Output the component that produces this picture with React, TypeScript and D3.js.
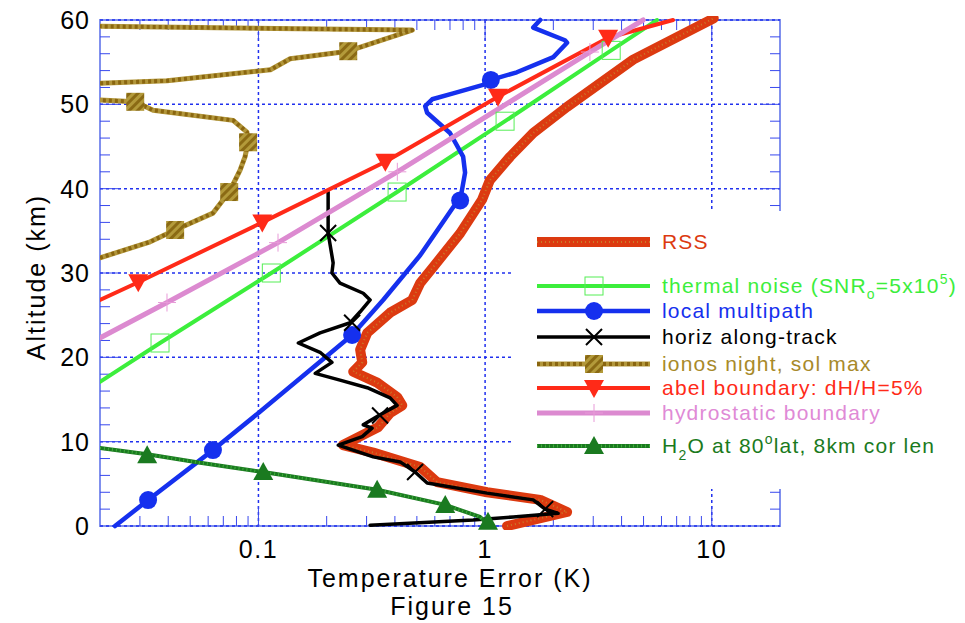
import * as d3 from 'd3';

type Pt = [number, number]; // [temperature error (K), altitude (km)]

// ---- data ----
const rss: Pt[] = [
  [1.25, 0.0], [2.3, 1.66], [1.75, 3.1], [1.02, 4.0], [0.614, 5.2], [0.517, 7.0], [0.321, 8.7],
  [0.236, 9.6], [0.337, 11.7], [0.381, 13.4], [0.431, 14.3], [0.409, 15.3], [0.334, 17.0],
  [0.262, 18.3], [0.287, 19.4], [0.281, 20.9], [0.302, 22.9], [0.381, 25.3], [0.477, 26.8],
  [0.517, 28.8], [0.59, 30.7], [0.776, 34.7], [0.97, 38.7], [1.05, 41.0], [1.29, 43.8],
  [1.63, 46.6], [2.3, 49.7], [4.5, 55.3], [10.2, 60.2],
];

const thermal: Pt[] = [[0.02, 17.1], [0.0368, 21.7], [0.114, 30.0], [0.409, 39.6], [1.225, 48.0], [3.6, 56.4], [5.74, 60]];
const thermalMarks: Pt[] = [[0.0368, 21.7], [0.114, 30.0], [0.409, 39.6], [1.225, 48.0], [3.6, 56.4]];

const multipath: Pt[] = [
  [0.0233, 0], [0.0326, 3.08], [0.063, 9.0], [0.1, 13.4], [0.259, 22.65], [0.355, 26.8],
  [0.517, 32.1], [0.723, 37.8], [0.776, 38.6], [0.816, 41.9], [0.8, 43.8], [0.7, 46.6],
  [0.555, 49.0], [0.544, 49.8], [0.584, 50.6], [0.723, 51.3], [0.98, 52.3], [1.06, 52.9],
  [1.38, 53.8], [2.0, 55.6], [2.3, 57.3], [2.25, 57.6], [1.63, 59.1], [1.75, 60],
];
const multipathMarks: Pt[] = [[0.0326, 3.08], [0.063, 9.0], [0.259, 22.65], [0.776, 38.6], [1.06, 52.9]];

const alongTrack: Pt[] = [
  [0.311, 0.1], [0.885, 0.7], [1.33, 1.07], [2.1, 1.5], [1.84, 2.0], [1.63, 3.1], [1.02, 3.9],
  [0.555, 5.1], [0.491, 6.4], [0.422, 7.6], [0.321, 8.2], [0.225, 9.6], [0.287, 10.6],
  [0.317, 11.6], [0.29, 12.0], [0.344, 13.2], [0.409, 14.3], [0.381, 15.2], [0.302, 16.4],
  [0.229, 17.3], [0.178, 18.1], [0.211, 19.4], [0.187, 20.6], [0.15, 21.7], [0.187, 22.9],
  [0.254, 24.1], [0.281, 25.4], [0.311, 26.8], [0.29, 27.6], [0.229, 28.8], [0.211, 30.0],
  [0.2136, 31.2], [0.203, 34.75], [0.203, 39.6],
];
const alongTrackMarks: Pt[] = [[1.84, 2.0], [0.491, 6.4], [0.344, 13.1], [0.259, 24.1], [0.203, 34.75]];

const ionos: Pt[] = [
  [0.02, 31.8], [0.0333, 33.7], [0.0429, 35.1], [0.063, 37.1], [0.0743, 39.6], [0.083, 42.2],
  [0.0873, 43.8], [0.09, 45.5], [0.089, 46.7], [0.0773, 48.1], [0.0343, 49.3], [0.0286, 50.3],
  [0.02, 50.5], [0.012, 51.5], [0.02, 52.5], [0.0396, 52.8], [0.113, 54.1], [0.138, 55.4],
  [0.249, 56.3], [0.477, 58.8], [0.02, 59.25], [0.012, 59.3],
];
const ionosMarks: Pt[] = [[0.0429, 35.1], [0.0743, 39.6], [0.09, 45.5], [0.0286, 50.3], [0.249, 56.3]];

const abel: Pt[] = [[0.02, 26.8], [0.0295, 28.9], [0.104, 36.0], [0.363, 43.2], [1.14, 50.9], [3.49, 57.9], [6.75, 60]];
const abelMarks: Pt[] = [[0.0295, 28.9], [0.104, 36.0], [0.363, 43.2], [1.14, 50.9], [3.49, 57.9]];

const hydro: Pt[] = [[0.02, 22.3], [0.0395, 26.5], [0.122, 33.6], [0.41, 42.0], [2.9, 56.2], [4.98, 60]];
const hydroMarks: Pt[] = [[0.0395, 26.5], [0.122, 33.6], [0.41, 42.0], [2.9, 56.2]];

const h2o: Pt[] = [[0.02, 9.25], [0.0323, 8.5], [0.0553, 7.5], [0.105, 6.4], [0.334, 4.3], [0.667, 2.5], [0.95, 1.07], [1.05, 0.0]];
const h2oMarks: Pt[] = [[0.0323, 8.4], [0.105, 6.4], [0.334, 4.3], [0.667, 2.5], [1.03, 0.5]];

const xLabels = [0.1, 1, 10];
const yLabels = [0, 10, 20, 30, 40, 50, 60];

// ---- layout ----
const X0 = 100, X1 = 780, Y0 = 20, Y1 = 526;
const x = d3.scaleLog().domain([0.02, 20]).range([X0, X1]);
const y = d3.scaleLinear().domain([0, 60]).range([Y1, Y0]);
const line = d3.line<Pt>().x((d) => x(d[0])).y((d) => y(d[1]));

const FONT = "'Liberation Sans', Arial, Helvetica, sans-serif";
const BLUE = '#2030ee';

type Kind = 'none' | 'openSquare' | 'circle' | 'cross' | 'hatchSquare' | 'triDown' | 'plus' | 'triUp';

const series = [
  { key: 'rss', data: rss, marks: [] as Pt[], kind: 'none' as Kind, color: '#dc3a10', width: 10, dots: '#c97a2a' },
  { key: 'thermal', data: thermal, marks: thermalMarks, kind: 'openSquare' as Kind, color: '#3cee3c', width: 4, dots: '' },
  { key: 'multipath', data: multipath, marks: multipathMarks, kind: 'circle' as Kind, color: '#1530ee', width: 4.5, dots: '' },
  { key: 'along', data: alongTrack, marks: alongTrackMarks, kind: 'cross' as Kind, color: '#000000', width: 3.5, dots: '' },
  { key: 'ionos', data: ionos, marks: ionosMarks, kind: 'hatchSquare' as Kind, color: '#b2963a', width: 5, dots: '#8a6610' },
  { key: 'abel', data: abel, marks: abelMarks, kind: 'triDown' as Kind, color: '#ff2a18', width: 4, dots: '' },
  { key: 'hydro', data: hydro, marks: hydroMarks, kind: 'plus' as Kind, color: '#dc8ad0', width: 5, dots: '' },
  { key: 'h2o', data: h2o, marks: h2oMarks, kind: 'triUp' as Kind, color: '#1a7a20', width: 4, dots: '#3fae3a' },
];

function Marker({ kind, cx, cy, color }: { kind: Kind; cx: number; cy: number; color: string }) {
  switch (kind) {
    case 'openSquare':
      return <rect x={cx - 9} y={cy - 9} width={18} height={18} fill="none" stroke="#55ee55" strokeWidth={1} />;
    case 'circle':
      return <circle cx={cx} cy={cy} r={9} fill={color} />;
    case 'cross':
      return (
        <path d={`M${cx - 8},${cy - 8}L${cx + 8},${cy + 8}M${cx - 8},${cy + 8}L${cx + 8},${cy - 8}`} stroke="#000" strokeWidth={2} />
      );
    case 'hatchSquare':
      return <rect x={cx - 9} y={cy - 9} width={18} height={18} fill="url(#hatch)" />;
    case 'triDown':
      return <path d={`M${cx - 10},${cy - 8}L${cx + 10},${cy - 8}L${cx},${cy + 10}Z`} fill={color} />;
    case 'plus':
      return (
        <path d={`M${cx - 9},${cy}L${cx + 9},${cy}M${cx},${cy - 9}L${cx},${cy + 9}`} stroke="#e89ad8" strokeWidth={1} />
      );
    case 'triUp':
      return <path d={`M${cx - 10},${cy + 8}L${cx + 10},${cy + 8}L${cx},${cy - 10}Z`} fill={color} />;
    default:
      return null;
  }
}

const legendRows = [
  { key: 'rss', y: 242, label: <>RSS</> },
  { key: 'thermal', y: 286, label: <>thermal noise (SNR<tspan fontSize={14} dy={6}>o</tspan><tspan dy={-6}>=5x10</tspan><tspan fontSize={14} dy={-9}>5</tspan><tspan dy={9}>)</tspan></> },
  { key: 'multipath', y: 311, label: <>local multipath</> },
  { key: 'along', y: 337, label: <>horiz along-track</> },
  { key: 'ionos', y: 364, label: <>ionos night, sol max</> },
  { key: 'abel', y: 388, label: <>abel boundary: dH/H=5%</> },
  { key: 'hydro', y: 413, label: <>hydrostatic boundary</> },
  { key: 'h2o', y: 446, label: <>H<tspan fontSize={14} dy={7}>2</tspan><tspan dy={-7}>O at 80</tspan><tspan fontSize={14} dy={-9}>o</tspan><tspan dy={9}>lat, 8km cor len</tspan></> },
];

const textColor: Record<string, string> = {
  rss: '#dc3a10', thermal: '#3cee3c', multipath: '#1530ee', along: '#000', ionos: '#a88a2a',
  abel: '#ff2a18', hydro: '#e08ad6', h2o: '#1a7a20',
};

export default function App() {
  const minorX = x.ticks().filter((t) => t > 0.02 && t < 20);
  const minorY = d3.range(2, 60, 2);

  return (
    <svg width={965} height={623} style={{ display: 'block', position: 'absolute', left: 0, top: 0, background: '#fff' }} fontFamily={FONT}>
      <defs>
        <clipPath id="plotclip">
          <rect x={X0} y={Y0 - 4} width={X1 - X0} height={Y1 - Y0 + 8} />
        </clipPath>
        <pattern id="hatch" width={6} height={6} patternUnits="userSpaceOnUse" patternTransform="rotate(45)">
          <rect width={6} height={6} fill="#b39a3a" />
          <rect width={3} height={6} fill="#8a6a14" />
        </pattern>
      </defs>

      {/* frame */}
      <rect x={X0} y={Y0} width={X1 - X0} height={Y1 - Y0} fill="none" stroke="#8090ee" strokeWidth={2} />

      {/* grid */}
      {xLabels.map((v) => (
        <line key={'gx' + v} x1={x(v)} x2={x(v)} y1={Y0} y2={Y1} stroke={BLUE} strokeWidth={1.5} strokeDasharray="3,3" />
      ))}
      {yLabels.map((v) => (
        <line key={'gy' + v} x1={X0} x2={X1} y1={y(v)} y2={y(v)} stroke={BLUE} strokeWidth={1.5} strokeDasharray="3,3" />
      ))}

      {/* ticks */}
      {minorX.map((t) => {
        const major = xLabels.includes(t);
        const len = major ? 20 : 10;
        return (
          <g key={'tx' + t} stroke="#3848ee" strokeWidth={1}>
            <line x1={x(t)} x2={x(t)} y1={Y1} y2={Y1 - len} />
            <line x1={x(t)} x2={x(t)} y1={Y0} y2={Y0 + len} />
          </g>
        );
      })}
      {minorY.map((t) => {
        const len = t % 10 === 0 ? 20 : 10;
        return (
          <g key={'ty' + t} stroke="#3848ee" strokeWidth={1}>
            <line x1={X0} x2={X0 + len} y1={y(t)} y2={y(t)} />
            <line x1={X1} x2={X1 - len} y1={y(t)} y2={y(t)} />
          </g>
        );
      })}

      {/* curves */}
      <g clipPath="url(#plotclip)" fill="none" strokeLinejoin="round" strokeLinecap="round">
        {series.map((s) => (
          <g key={s.key}>
            <path d={line(s.data) ?? ''} stroke={s.color} strokeWidth={s.width} />
            {s.dots && (
              <path d={line(s.data) ?? ''} stroke={s.dots} strokeWidth={s.key === 'rss' ? 2 : s.width - 1} strokeDasharray={s.key === 'ionos' ? '3,3' : '1,3'} strokeLinecap="butt" />
            )}
          </g>
        ))}
      </g>
      <g>
        {series.map((s) =>
          s.marks.map((m, i) => <Marker key={s.key + i} kind={s.kind} cx={x(m[0])} cy={y(m[1])} color={s.color} />),
        )}
      </g>

      {/* legend */}
      <rect x={514} y={211} width={440} height={278} fill="#fff" />
      {legendRows.map((r) => {
        const s = series.find((d) => d.key === r.key)!;
        return (
          <g key={'lg' + r.key}>
            <line x1={537} x2={650} y1={r.y} y2={r.y} stroke={s.color} strokeWidth={s.width} />
            {s.dots && (
              <line x1={537} x2={650} y1={r.y} y2={r.y} stroke={s.dots} strokeWidth={s.key === 'rss' ? 2 : s.width - 1} strokeDasharray={s.key === 'ionos' ? '3,3' : '1,3'} />
            )}
            <Marker kind={s.kind} cx={594} cy={r.y} color={s.color} />
            <text x={662} y={r.y + 7} fontSize={21} letterSpacing={1.2} fill={textColor[r.key]}>
              {r.label}
            </text>
          </g>
        );
      })}

      {/* tick labels */}
      {yLabels.map((v) => (
        <text key={'ly' + v} x={90} y={y(v) + 9} fontSize={25} textAnchor="end" letterSpacing={1}>
          {v}
        </text>
      ))}
      {xLabels.map((v) => (
        <text key={'lx' + v} x={x(v)} y={558} fontSize={25} textAnchor="middle" letterSpacing={1.5}>
          {v}
        </text>
      ))}

      {/* axis titles */}
      <text x={450} y={587} fontSize={25} textAnchor="middle" letterSpacing={2}>
        Temperature Error (K)
      </text>
      <text x={452} y={615} fontSize={25} textAnchor="middle" letterSpacing={2}>
        Figure 15
      </text>
      <text transform="translate(45,277) rotate(-90)" fontSize={25} textAnchor="middle" letterSpacing={2}>
        Altitude (km)
      </text>
    </svg>
  );
}
